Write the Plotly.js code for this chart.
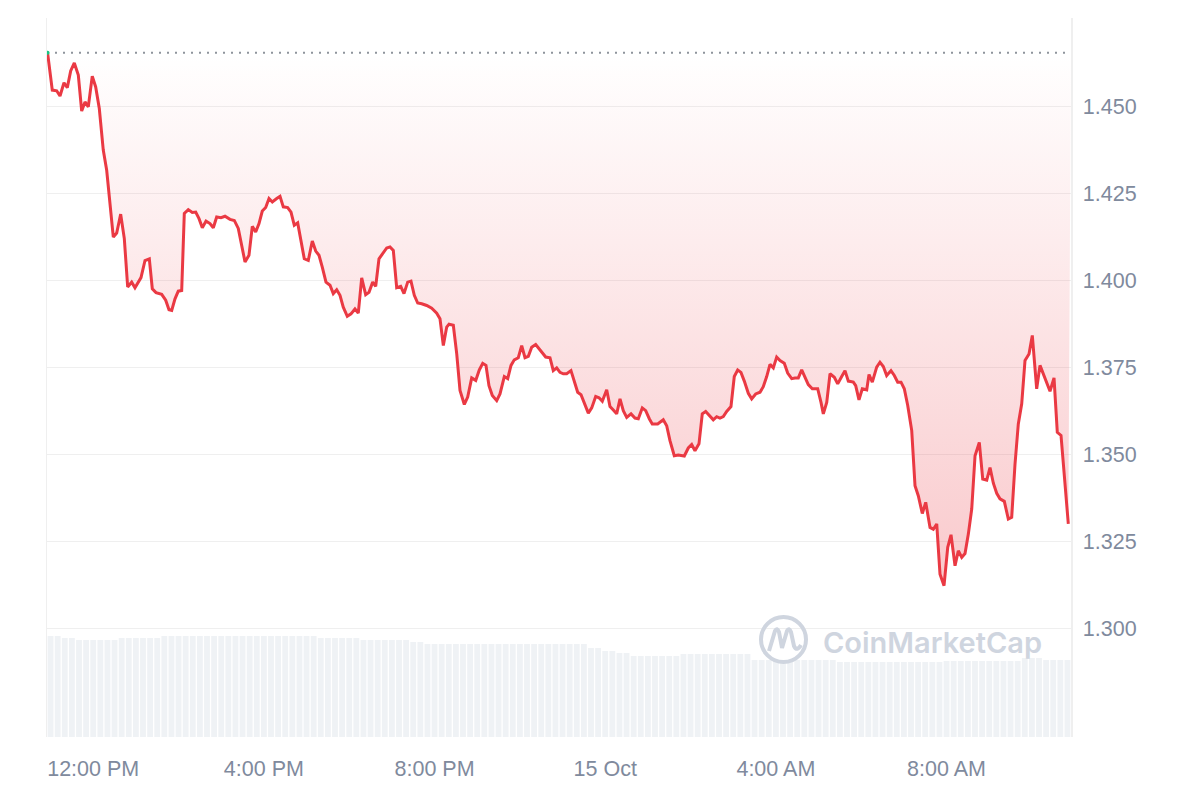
<!DOCTYPE html>
<html>
<head>
<meta charset="utf-8">
<script src="https://cdn.plot.ly/plotly-3.0.1.min.js"></script>
<style>
  html, body { margin: 0; padding: 0; background: #ffffff; }
  #chart { width: 1200px; height: 800px; }
</style>
</head>
<body>
<div id="chart"></div>
<script>
// Time of each price point, in hours since 14 Oct 00:00
const hours = [10.93,11.041,11.144,11.222,11.315,11.393,11.472,11.557,11.651,11.730,11.808,11.885,11.978,12.058,12.143,12.236,12.316,12.393,12.471,12.550,12.644,12.729,12.808,12.902,12.979,13.120,13.214,13.315,13.385,13.472,13.605,13.699,13.776,13.840,13.917,13.994,14.074,14.135,14.229,14.322,14.402,14.480,14.557,14.644,14.737,14.815,14.894,14.995,15.089,15.206,15.307,15.400,15.480,15.558,15.651,15.729,15.808,15.886,15.963,16.043,16.120,16.198,16.301,16.378,16.455,16.558,16.636,16.713,16.793,16.870,16.947,17.041,17.135,17.215,17.292,17.369,17.456,17.550,17.627,17.707,17.784,17.861,17.955,18.042,18.135,18.213,18.293,18.386,18.464,18.550,18.621,18.698,18.776,18.879,18.956,19.034,19.113,19.207,19.284,19.371,19.448,19.526,19.605,19.699,19.816,19.934,20.051,20.128,20.206,20.285,20.339,20.440,20.520,20.597,20.698,20.777,20.871,20.965,21.049,21.129,21.206,21.276,21.354,21.457,21.534,21.635,21.715,21.792,21.869,21.963,22.043,22.120,22.198,22.277,22.371,22.448,22.526,22.605,22.706,22.783,22.863,22.940,23.018,23.097,23.198,23.276,23.355,23.433,23.510,23.604,23.684,23.777,23.855,23.932,24.035,24.112,24.190,24.269,24.347,24.424,24.504,24.605,24.698,24.776,24.869,24.949,25.033,25.103,25.230,25.361,25.441,25.518,25.619,25.713,25.854,25.947,26.027,26.104,26.198,26.275,26.355,26.456,26.533,26.613,26.690,26.768,26.847,26.948,27.025,27.105,27.182,27.260,27.354,27.433,27.527,27.628,27.705,27.785,27.862,27.940,28.019,28.097,28.197,28.277,28.371,28.448,28.526,28.605,28.683,28.760,28.854,28.980,29.058,29.112,29.192,29.269,29.370,29.449,29.543,29.620,29.698,29.815,29.871,29.948,30.026,30.129,30.183,30.260,30.363,30.440,30.518,30.597,30.698,30.776,30.855,30.933,31.010,31.090,31.184,31.261,31.338,31.432,31.512,31.613,31.690,31.770,31.847,31.941,32.028,32.105,32.199,32.276,32.356,32.433,32.511,32.590,32.668,32.768,32.848,32.942,33.019,33.097,33.176,33.253,33.354,33.448,33.527,33.605,33.682,33.762,33.839,33.933,34.010,34.113,34.191,34.268,34.348,34.425,34.519,34.596,34.683,34.777,34.854];

// Price (USD)
const prices = [1.4653,1.4546,1.4544,1.4529,1.4567,1.4553,1.4601,1.4624,1.4589,1.4486,1.4512,1.4498,1.4586,1.4555,1.4493,1.4374,1.4316,1.4230,1.4124,1.4136,1.4190,1.4120,1.3981,1.3995,1.3979,1.4008,1.4057,1.4062,1.3976,1.3965,1.3960,1.3943,1.3916,1.3914,1.3947,1.3969,1.3971,1.4192,1.4203,1.4195,1.4196,1.4177,1.4151,1.4170,1.4163,1.4151,1.4182,1.4180,1.4184,1.4175,1.4172,1.4149,1.4105,1.4053,1.4072,1.4155,1.4139,1.4163,1.4199,1.4209,1.4235,1.4225,1.4235,1.4241,1.4211,1.4209,1.4196,1.4158,1.4165,1.4110,1.4062,1.4057,1.4113,1.4084,1.4072,1.4038,1.3995,1.3986,1.3962,1.3973,1.3957,1.3923,1.3897,1.3904,1.3918,1.3906,1.4007,1.3959,1.3966,1.3995,1.3983,1.4062,1.4077,1.4093,1.4096,1.4086,1.3979,1.3983,1.3962,1.3995,1.3998,1.3957,1.3935,1.3933,1.3928,1.3920,1.3906,1.3890,1.3813,1.3866,1.3874,1.3871,1.3789,1.3684,1.3644,1.3665,1.3720,1.3713,1.3743,1.3762,1.3756,1.3698,1.3670,1.3655,1.3674,1.3724,1.3718,1.3756,1.3772,1.3778,1.3813,1.3778,1.3782,1.3808,1.3816,1.3804,1.3791,1.3780,1.3778,1.3741,1.3749,1.3736,1.3732,1.3732,1.3741,1.3713,1.3679,1.3672,1.3647,1.3619,1.3634,1.3667,1.3663,1.3653,1.3686,1.3638,1.3628,1.3617,1.3660,1.3626,1.3607,1.3617,1.3605,1.3603,1.3634,1.3626,1.3603,1.3588,1.3588,1.3600,1.3583,1.3540,1.3497,1.3499,1.3496,1.3519,1.3529,1.3511,1.3531,1.3617,1.3624,1.3609,1.3600,1.3609,1.3605,1.3609,1.3624,1.3638,1.3724,1.3743,1.3736,1.3711,1.3676,1.3660,1.3674,1.3679,1.3695,1.3724,1.3759,1.3749,1.3780,1.3770,1.3762,1.3734,1.3718,1.3720,1.3720,1.3743,1.3724,1.3701,1.3689,1.3689,1.3650,1.3617,1.3650,1.3732,1.3722,1.3703,1.3724,1.3741,1.3711,1.3708,1.3698,1.3657,1.3689,1.3686,1.3730,1.3708,1.3751,1.3765,1.3753,1.3727,1.3741,1.3727,1.3708,1.3708,1.3689,1.3641,1.3569,1.3411,1.3382,1.3331,1.3363,1.3291,1.3286,1.3301,1.3157,1.3124,1.3234,1.3270,1.3181,1.3224,1.3205,1.3216,1.3272,1.3344,1.3497,1.3535,1.3430,1.3427,1.3463,1.3418,1.3389,1.3373,1.3366,1.3315,1.3320,1.3473,1.3588,1.3646,1.3770,1.3789,1.3842,1.3689,1.3756,1.3730,1.3708,1.3682,1.3720,1.3564,1.3555,1.3406,1.3301];

// Volume bars (relative units), one per 10 minutes
const volumes = [101,101,99,99,97,97,97,97,97,97,99,99,99,99,99,99,
  101,101,101,101,101,101,101,101,101,101,101,101,101,101,101,101,101,101,101,101,101,101,
  99,99,99,99,99,99,97,97,97,97,97,97,97,95,95,
  93,93,93,93,93,93,93,93,93,93,93,93,93,93,93,93,93,93,93,93,93,93,93,
  89,89,86,86,84,84,81,81,81,81,81,81,81,
  83,83,83,83,83,83,83,83,83,83,
  77,77,77,77,77,77,77,77,77,77,77,77,
  75,75,75,75,75,75,75,75,75,75,75,75,75,75,75,
  76,76,76,76,76,76,76,76,76,76,76,79,79,79,77,77,77,77];

const xTickHours = [12, 16, 20, 24, 28, 32];
const xTickLabels = ['12:00 PM', '4:00 PM', '8:00 PM', '15 Oct', '4:00 AM', '8:00 AM'];
const yTickValues = [1.300, 1.325, 1.350, 1.375, 1.400, 1.425, 1.450];

const startHour = 10.917, endHour = 34.917, volumeStepHours = 1 / 6;

function toDate(h) {
  const d = new Date(Date.UTC(2024, 9, 14) + Math.round(h * 3600000));
  return d.toISOString().replace('T', ' ').slice(0, 19);
}

const n = Math.min(hours.length, prices.length);
const times = hours.slice(0, n).map(toDate);
const px = prices.slice(0, n);
const openPrice = px[0];
const volTimes = volumes.map((v, i) => toDate(startHour + (i + 0.5) * volumeStepHours));

const red = '#ea3943';

const traces = [
  {
    type: 'bar', x: volTimes, y: volumes, yaxis: 'y2',
    marker: { color: '#eff2f5', line: { width: 0 } },
    width: volumeStepHours * 3600000 * 0.82,
    hoverinfo: 'skip', showlegend: false
  },
  {
    type: 'scatter', mode: 'lines',
    x: [toDate(startHour), toDate(endHour)], y: [openPrice, openPrice],
    line: { color: '#8e949c', width: 2, dash: '2px,6px' },
    hoverinfo: 'skip', showlegend: false
  },
  {
    type: 'scatter', mode: 'lines', x: times, y: px,
    line: { color: red, width: 3, shape: 'linear' },
    fill: 'tonexty',
    fillgradient: {
      type: 'vertical',
      colorscale: [[0, 'rgba(234,57,67,0.27)'], [1, 'rgba(234,57,67,0.0)']],
      start: Math.min(...px), stop: openPrice
    },
    showlegend: false
  },
  {
    type: 'scatter', mode: 'markers', x: [times[0]], y: [px[0]],
    marker: { color: '#16c784', size: 4 },
    hoverinfo: 'skip', showlegend: false
  }
];

const L = 47, R = 1071, T = 18, B = 737;
function pxX(v) { return (v - L) / (R - L); }
function pxY(v) { return (B - v) / (B - T); }

const wm = '#cfd5df';
const layout = {
  width: 1200, height: 800,
  margin: { l: L, r: 1200 - R, t: T, b: 800 - B, pad: 0 },
  paper_bgcolor: '#ffffff', plot_bgcolor: '#ffffff',
  showlegend: false,
  font: { family: 'Liberation Sans, Arial, sans-serif', color: '#808a9d', size: 20 },
  xaxis: {
    type: 'date',
    range: [toDate(startHour), toDate(endHour)],
    tickvals: xTickHours.map(toDate), ticktext: xTickLabels,
    showgrid: false, zeroline: false, showline: false,
    ticks: 'outside', ticklen: 12, tickcolor: 'rgba(0,0,0,0)',
    tickfont: { size: 21.5, color: '#808a9d' }
  },
  yaxis: {
    side: 'right',
    range: [1.26897, 1.47529],
    tickvals: yTickValues, tickformat: '.3f',
    showgrid: true, gridcolor: '#efefef', gridwidth: 1.2,
    zeroline: false,
    showline: true, mirror: true, linecolor: '#efefef', linewidth: 1.5,
    ticks: 'outside', ticklen: 6, tickcolor: 'rgba(0,0,0,0)',
    tickfont: { size: 21.5, color: '#808a9d' }
  },
  yaxis2: {
    overlaying: 'y', range: [0, 719], visible: false, showgrid: false, zeroline: false
  },
  bargap: 0.18,
  shapes: [
    { type: 'circle', xref: 'paper', yref: 'paper',
      x0: pxX(761), x1: pxX(806), y0: pxY(662), y1: pxY(617),
      line: { color: wm, width: 4 }, layer: 'above' },
    { type: 'path', xref: 'paper', yref: 'paper', layer: 'above',
      path: 'M ' + pxX(769) + ' ' + pxY(651) +
            ' L ' + pxX(775) + ' ' + pxY(631) +
            ' Q ' + pxX(777) + ' ' + pxY(627) + ' ' + pxX(779) + ' ' + pxY(632) +
            ' L ' + pxX(782) + ' ' + pxY(648) +
            ' L ' + pxX(787) + ' ' + pxY(631) +
            ' Q ' + pxX(789) + ' ' + pxY(627) + ' ' + pxX(791) + ' ' + pxY(632) +
            ' L ' + pxX(794) + ' ' + pxY(646) +
            ' Q ' + pxX(797) + ' ' + pxY(652) + ' ' + pxX(801) + ' ' + pxY(645),
      line: { color: wm, width: 4 } }
  ],
  annotations: [
    { xref: 'paper', yref: 'paper', x: pxX(821), y: pxY(642), xanchor: 'left', yanchor: 'middle',
      text: 'CoinMarketCap', showarrow: false,
      font: { family: 'Inter, Open Sans, sans-serif', size: 29, color: wm, weight: 600 } }
  ]
};

Plotly.newPlot('chart', traces, layout, { displayModeBar: false, staticPlot: true });
</script>
</body>
</html>
